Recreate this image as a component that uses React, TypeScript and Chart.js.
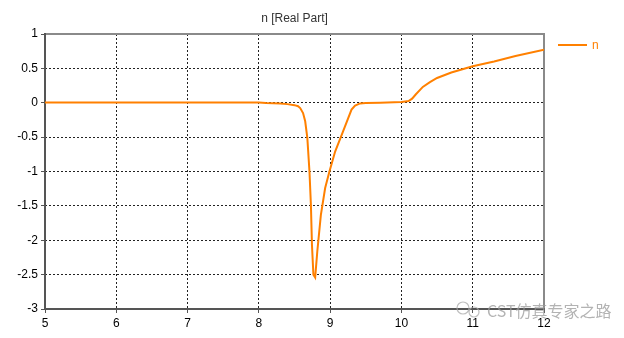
import React, { useEffect, useRef } from "react";
import { Chart, registerables } from "chart.js";

Chart.register(...registerables);

const freq = [
  5, 6, 7, 8, 8.1, 8.2, 8.3, 8.4, 8.5, 8.55, 8.58, 8.62, 8.65, 8.68, 8.71, 8.73,
  8.745, 8.765, 8.79, 8.82, 8.87, 8.93, 8.99, 9.07, 9.18, 9.3, 9.35, 9.42, 9.5,
  9.7, 9.9, 10.0, 10.1, 10.15, 10.2, 10.3, 10.4, 10.5, 10.7, 11.0, 11.3, 11.6,
  12.0,
];
const nReal = [
  0.002, 0.002, 0.002, 0.002, -0.005, -0.008, -0.01, -0.02, -0.035, -0.05,
  -0.077, -0.15, -0.27, -0.51, -1.0, -1.48, -2.07, -2.5, -2.54, -2.16, -1.63,
  -1.24, -1.0, -0.71, -0.42, -0.1, -0.04, -0.01, -0.005, 0, 0.008, 0.012, 0.025,
  0.06, 0.12, 0.23, 0.3, 0.36, 0.44, 0.53, 0.6, 0.68, 0.77,
];
const xTicks = [5, 6, 7, 8, 9, 10, 11, 12];
const yTicks = [1, 0.5, 0, -0.5, -1, -1.5, -2, -2.5, -3];
const chartTitle = "n [Real Part]";
const seriesName = "n";
const watermark = "CST仿真专家之路";

const FONT = "'Liberation Sans', Arial, sans-serif";

const extras = {
  id: "extras",
  beforeDatasetsDraw(chart: any) {
    const { ctx, chartArea } = chart;
    const { left, right, top, bottom } = chartArea;
    ctx.save();
    ctx.lineWidth = 2;
    ctx.strokeStyle = "#8a8a8a";
    ctx.beginPath();
    ctx.moveTo(left, top);
    ctx.lineTo(right, top);
    ctx.lineTo(right, bottom);
    ctx.stroke();
    ctx.strokeStyle = "#555555";
    ctx.beginPath();
    ctx.moveTo(left, top - 1);
    ctx.lineTo(left, bottom);
    ctx.lineTo(right + 1, bottom);
    ctx.stroke();
    ctx.restore();
  },
  afterDraw(chart: any) {
    const { ctx, chartArea } = chart;
    ctx.save();
    // title
    ctx.fillStyle = "#333333";
    ctx.font = `12px ${FONT}`;
    ctx.textAlign = "center";
    ctx.textBaseline = "alphabetic";
    ctx.fillText(chartTitle, (chartArea.left + chartArea.right) / 2, 22);
    // legend
    ctx.strokeStyle = "#ff8000";
    ctx.lineWidth = 2;
    ctx.beginPath();
    ctx.moveTo(558, 45);
    ctx.lineTo(587, 45);
    ctx.stroke();
    ctx.fillStyle = "#ff8000";
    ctx.textAlign = "left";
    ctx.fillText(seriesName, 592, 49);
    // watermark
    ctx.globalAlpha = 0.75;
    ctx.strokeStyle = "#aaaaaa";
    ctx.lineWidth = 1.2;
    ctx.beginPath();
    ctx.arc(463, 308, 6, 0, Math.PI * 2);
    ctx.stroke();
    ctx.beginPath();
    ctx.arc(474, 312, 5, 0, Math.PI * 2);
    ctx.stroke();
    ctx.fillStyle = "#9a9a9a";
    ctx.font = `16px 'Noto Sans CJK SC', sans-serif`;
    ctx.fillText(watermark, 487, 317);
    ctx.restore();
  },
};

export default function App() {
  const ref = useRef<HTMLCanvasElement>(null);
  useEffect(() => {
    if (!ref.current) return;
    const chart = new Chart(ref.current, {
      type: "line",
      data: {
        datasets: [
          {
            label: seriesName,
            data: freq.map((f, i) => ({ x: f, y: nReal[i] })),
            borderColor: "#ff8000",
            borderWidth: 2,
            pointRadius: 0,
            tension: 0,
            fill: false,
          },
        ],
      },
      options: {
        animation: false,
        responsive: true,
        maintainAspectRatio: false,
        layout: { padding: { top: 34, right: 80, left: 0, bottom: 0 } },
        plugins: {
          legend: { display: false },
          title: { display: false },
          tooltip: { enabled: false },
        },
        scales: {
          x: {
            type: "linear",
            min: 5,
            max: 12,
            afterBuildTicks: (s: any) => {
              s.ticks = xTicks.map((v) => ({ value: v }));
            },
            afterFit: (s: any) => {
              s.height = 29;
            },
            ticks: {
              color: "#000000",
              font: { family: FONT, size: 12 },
              padding: 3,
              maxRotation: 0,
              autoSkip: false,
            },
            grid: {
              color: "#222222",
              lineWidth: 1,
              tickLength: 4,
              tickColor: "#555555",
              tickBorderDash: [],
            },
            border: { display: false, dash: [2, 2] },
          },
          y: {
            type: "linear",
            min: -3,
            max: 1,
            afterBuildTicks: (s: any) => {
              s.ticks = yTicks.map((v) => ({ value: v }));
            },
            afterFit: (s: any) => {
              s.width = 45;
            },
            ticks: {
              color: "#000000",
              font: { family: FONT, size: 12 },
              padding: 3,
              autoSkip: false,
              callback: (v: any) => String(v),
            },
            grid: {
              color: "#222222",
              lineWidth: 1,
              tickLength: 4,
              tickColor: "#555555",
              tickBorderDash: [],
            },
            border: { display: false, dash: [2, 2] },
          },
        },
      },
      plugins: [extras],
    });
    return () => chart.destroy();
  }, []);
  return (
    <div
      style={{
        position: "fixed",
        left: 0,
        top: 0,
        width: 624,
        height: 338,
        background: "#ffffff",
      }}
    >
      <canvas ref={ref} />
    </div>
  );
}
